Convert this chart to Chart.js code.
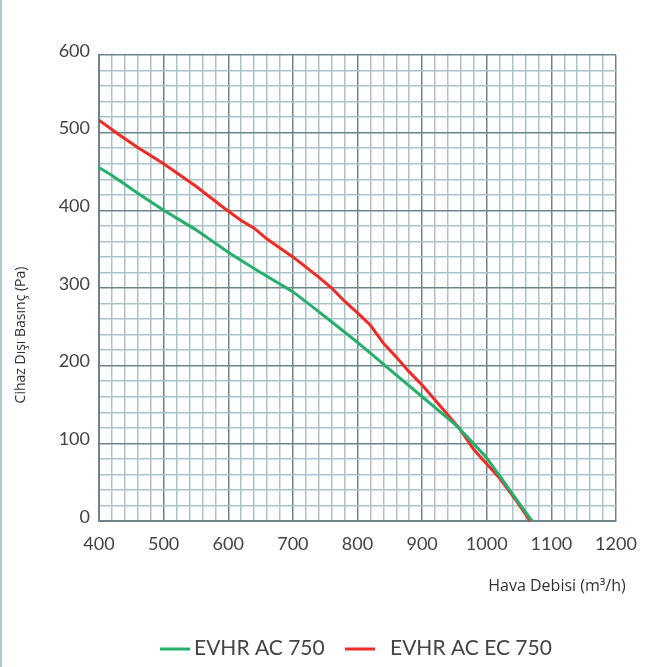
<!DOCTYPE html>
<html>
<head>
<meta charset="utf-8">
<script src="https://cdn.jsdelivr.net/npm/chart.js@4.4.1/dist/chart.umd.min.js"></script>
<style>
  body { margin: 0; background: #fff; }
  #wrap { position: relative; width: 670px; height: 667px; }
  #edge { position: absolute; left: 0; top: 0; width: 2px; height: 667px; background: #b3c9d1; }
</style>
</head>
<body>
<div id="wrap">
  <canvas id="lineChart" width="670" height="667"></canvas>
  <div id="edge"></div>
</div>
<script>
var seriesNames = ["EVHR AC 750", "EVHR AC EC 750"];
var acFlow =   [400, 420, 460, 500, 550, 600, 650, 700, 750, 800, 850, 900, 950, 970, 1000, 1020, 1050, 1070];
var acPress =  [455, 445, 422, 400, 375, 346, 320, 295, 263, 230, 195, 160, 125, 108, 81, 58, 23, 0];
var ecFlow =   [400, 430, 460, 500, 550, 595, 620, 640, 660, 700, 740, 760, 780, 805, 820, 840, 860, 880, 900, 925, 958, 980, 995, 1020, 1045, 1067];
var ecPress =  [516, 498, 481, 460, 431, 402, 387, 377, 363, 340, 314, 300, 283, 264, 252, 229, 211, 192, 175, 151, 119, 92, 78, 55, 27, 0];
var xTitle = "Hava Debisi (m\u00b3/h)";
var yTitle = "Cihaz D\u0131\u015f\u0131 Bas\u0131n\u00e7 (Pa)";

function pts(xs, ys) {
  return xs.map(function (x, i) { return { x: x, y: ys[i] }; });
}

var minorCol = "#a9c2c9";
var majorCol = "#6c858c";
function gridCol(c) { return c.tick && c.tick.value % 100 === 0 ? majorCol : minorCol; }

var extras = {
  id: "extras",
  afterDraw: function (chart) {
    var ctx = chart.ctx;
    ctx.save();
    ctx.fillStyle = "#333";
    ctx.font = "14px 'Open Sans'";
    ctx.textAlign = "center";
    ctx.textBaseline = "middle";
    ctx.translate(21, 335);
    ctx.rotate(-Math.PI / 2);
    ctx.fillText(yTitle, 0, 0);
    ctx.restore();

    ctx.save();
    ctx.fillStyle = "#333";
    ctx.font = "16px 'Open Sans'";
    ctx.textAlign = "center";
    ctx.textBaseline = "middle";
    ctx.fillText(xTitle, 557, 586);
    ctx.restore();

    // legend
    var items = [{ x: 160, tx: 194 }, { x: 345, tx: 390 }];
    ctx.save();
    ctx.font = "21px Lato";
    ctx.textBaseline = "middle";
    ctx.textAlign = "left";
    chart.data.datasets.forEach(function (ds, i) {
      var it = items[i];
      ctx.strokeStyle = ds.borderColor;
      ctx.lineWidth = 3;
      ctx.beginPath();
      ctx.moveTo(it.x, 649);
      ctx.lineTo(it.x + 30, 649);
      ctx.stroke();
      ctx.fillStyle = "#444";
      ctx.fillText(ds.label, it.tx, 648);
    });
    ctx.restore();
  }
};

var ctxL = document.getElementById("lineChart").getContext("2d");
var myChart = new Chart(ctxL, {
  type: "line",
  data: {
    datasets: [
      {
        label: seriesNames[0],
        data: pts(acFlow, acPress),
        borderColor: "#24b06a",
        borderWidth: 3,
        pointRadius: 0,
        tension: 0.1,
        fill: false
      },
      {
        label: seriesNames[1],
        data: pts(ecFlow, ecPress),
        borderColor: "#ee2b25",
        borderWidth: 3,
        pointRadius: 0,
        tension: 0,
        fill: false
      }
    ]
  },
  options: {
    responsive: false,
    animation: false,
    layout: { padding: { left: 0, top: 55, right: 54, bottom: 106 } },
    plugins: { legend: { display: false }, tooltip: { enabled: false } },
    scales: {
      x: {
        type: "linear",
        min: 400,
        max: 1200,
        afterFit: function (s) { s.height = 40; },
        ticks: {
          stepSize: 20,
          autoSkip: false,
          maxRotation: 0,
          padding: 12,
          color: "#444",
          font: { family: "Lato", size: 18 },
          callback: function (v) { return v % 100 === 0 ? v : ""; }
        },
        grid: { color: gridCol, lineWidth: 1.5, drawTicks: false },
        border: { color: majorCol, width: 2 }
      },
      y: {
        min: 0,
        max: 600,
        afterFit: function (s) { s.width = 99; },
        ticks: {
          stepSize: 20,
          autoSkip: false,
          padding: 9,
          labelOffset: -4,
          color: "#444",
          font: { family: "Lato", size: 18 },
          callback: function (v) { return v % 100 === 0 ? v : ""; }
        },
        grid: { color: gridCol, lineWidth: 1.5, drawTicks: false },
        border: { color: majorCol, width: 2 }
      }
    }
  },
  plugins: [extras]
});
</script>
</body>
</html>
